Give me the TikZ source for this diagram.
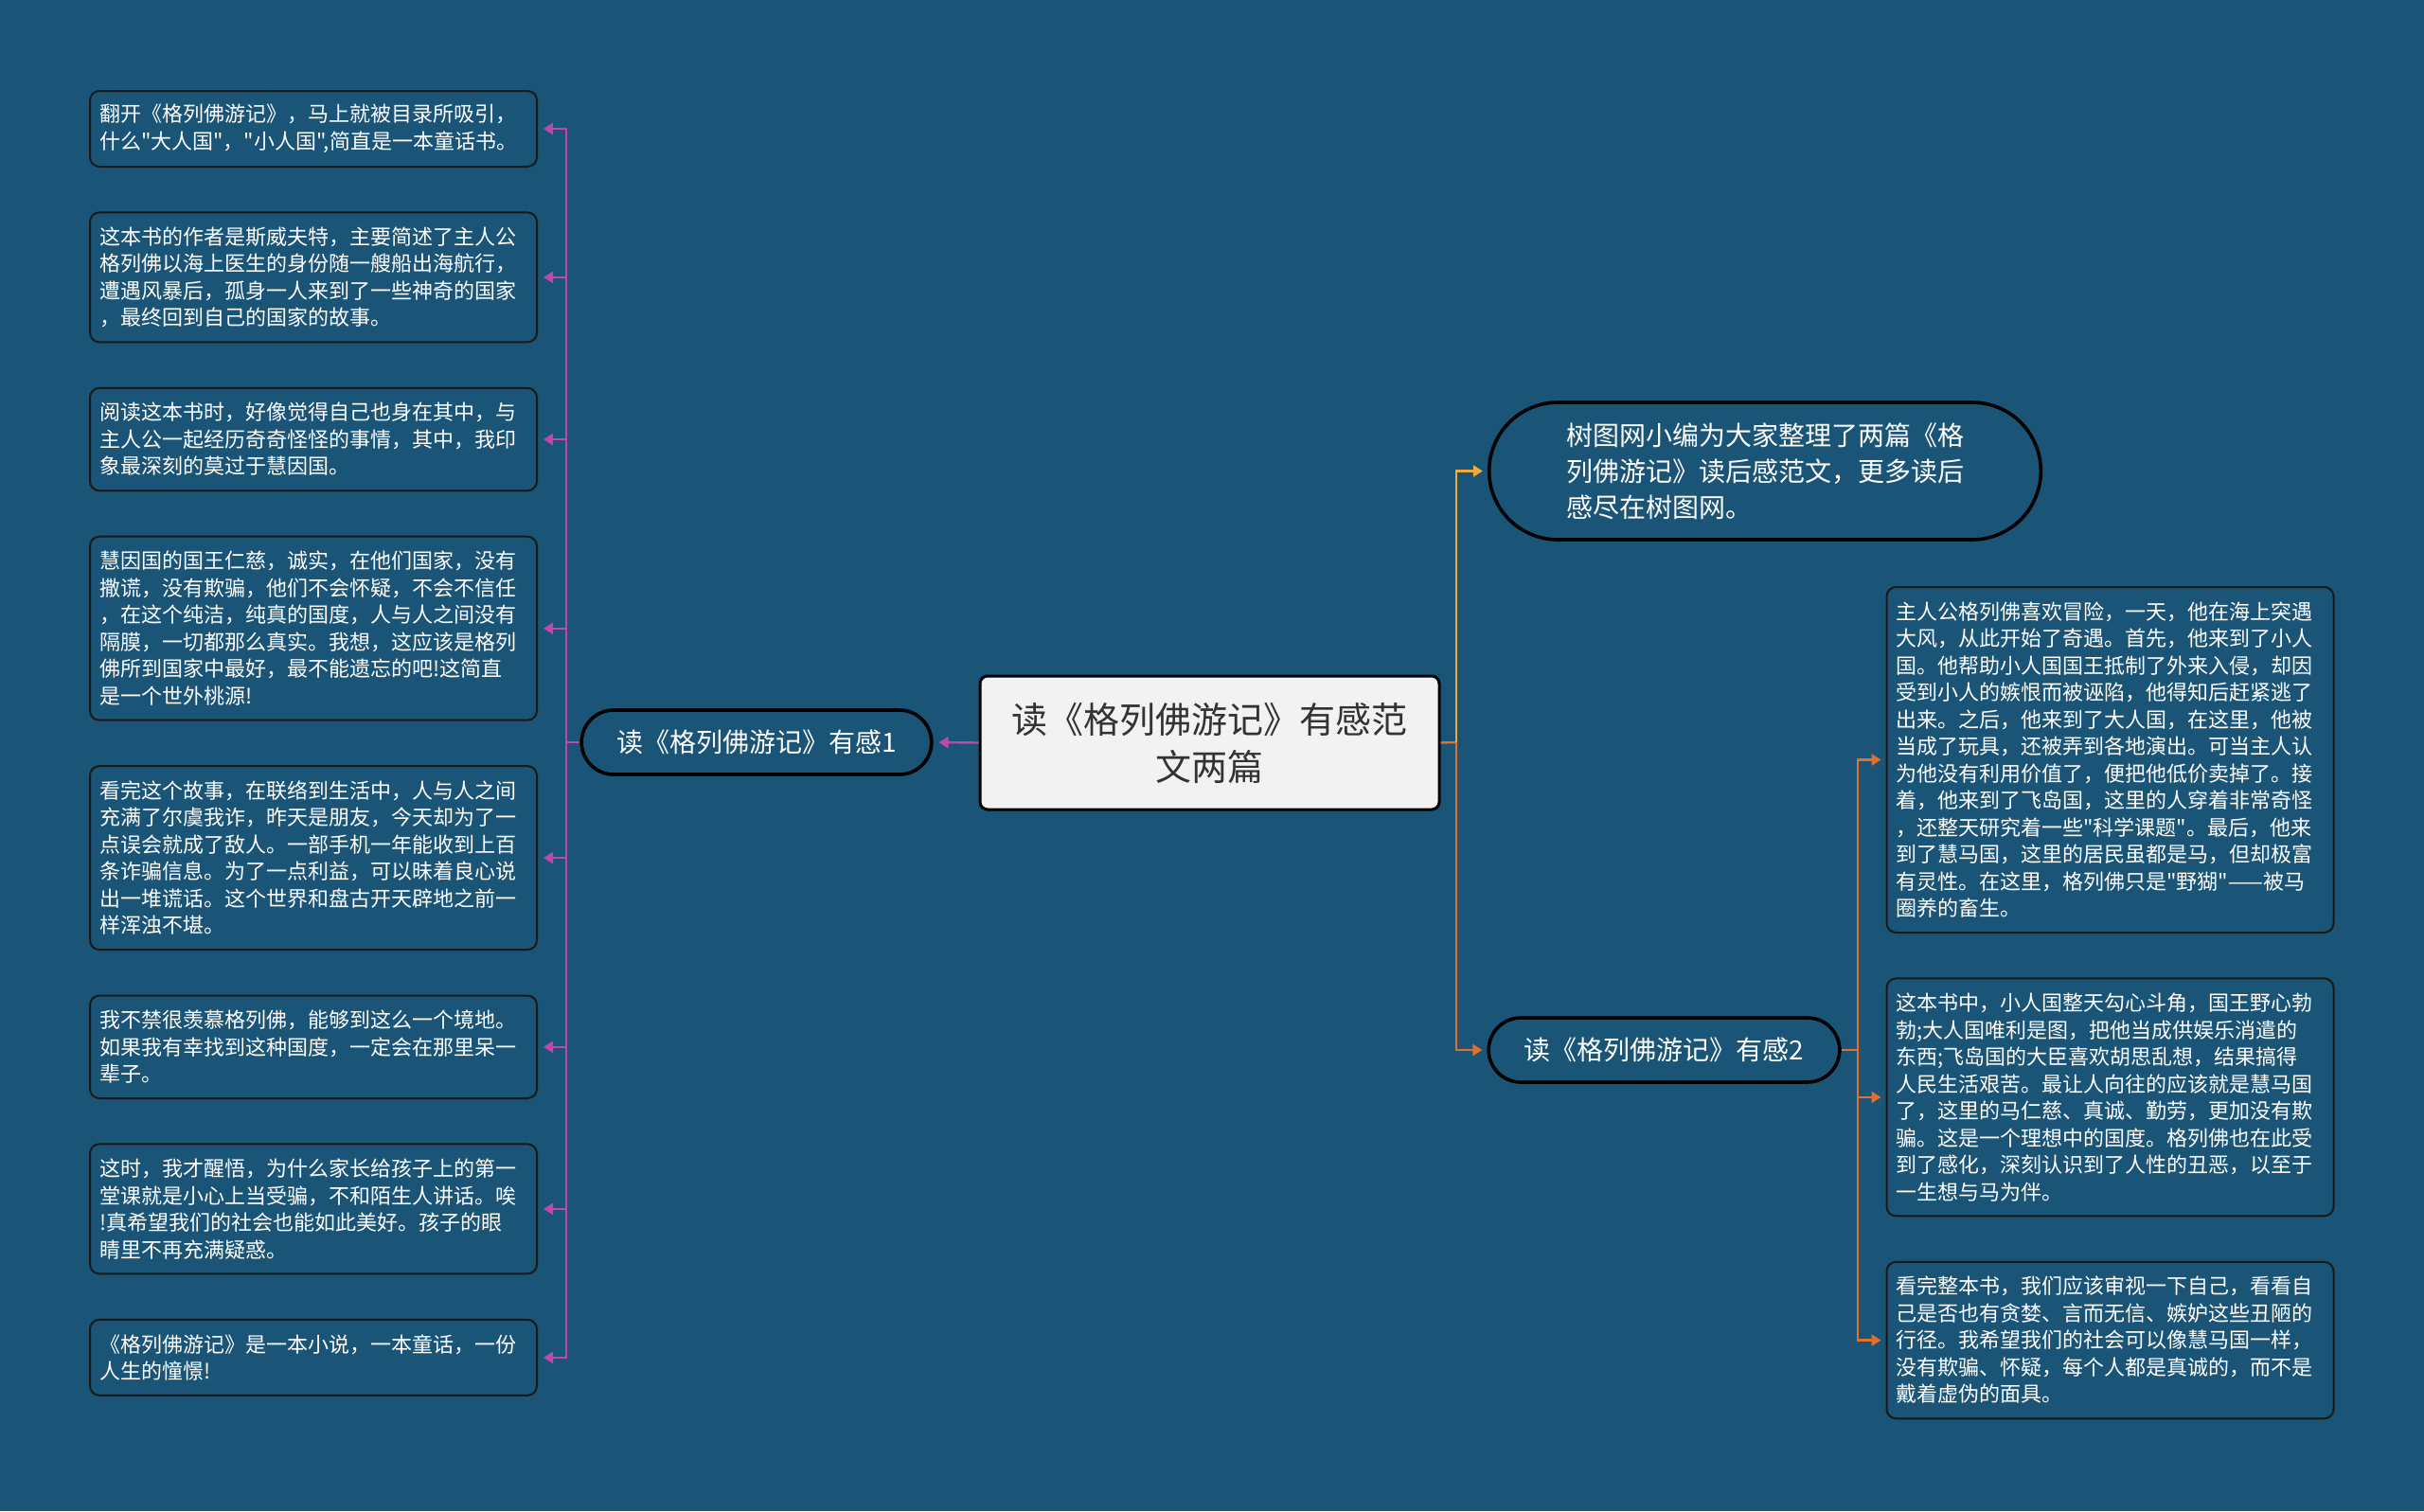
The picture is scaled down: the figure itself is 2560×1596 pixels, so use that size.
\documentclass[tikz,border=0pt]{standalone}
\usepackage{fontspec}
\setmainfont{Noto Sans CJK SC}[Ligatures=TeXOff]
\usepackage{tikz}
\usetikzlibrary{positioning, arrows.meta, shapes.misc}

\definecolor{bgblue}{RGB}{26,84,118}
\definecolor{rootgray}{RGB}{242,242,242}
\definecolor{linkpink}{RGB}{192,72,168}
\definecolor{linkgold}{RGB}{240,170,60}
\definecolor{linkorange}{RGB}{230,110,45}

\begin{document}
\begin{tikzpicture}[
    x=0.5pt, y=-0.5pt,
    node distance=23.2pt,
    root/.style={rectangle, draw=black, fill=rootgray, line width=1.5pt, rounded corners=4pt, align=center, minimum width=242.5pt, minimum height=70.5pt, text=black!80, font=\fontsize{19pt}{25pt}\selectfont},
    branch/.style={rounded rectangle, draw=black, fill=bgblue, line width=1.8pt, align=center, minimum height=34pt, text=white, font=\fontsize{14pt}{19pt}\selectfont},
    leaf/.style={rectangle, draw=black!90, fill=bgblue, line width=1pt, rounded corners=5pt, align=left, text width=226pt, inner xsep=5pt, minimum width=236pt, minimum height={#1*14.25pt+11.5pt}, text=white, font=\fontsize{11pt}{14.25pt}\selectfont},
    pinkline/.style={line width=1.2pt, draw=linkpink},
    pinkarrow/.style={pinkline, -{Triangle[length=5pt, width=6pt]}, shorten >=3pt},
    goldarrow/.style={line width=1.2pt, draw=linkgold, -{Triangle[length=5pt, width=6pt]}, shorten >=2.5pt},
    orangeline/.style={line width=1.2pt, draw=linkorange},
    orangearrow/.style={orangeline, -{Triangle[length=5pt, width=6pt]}, shorten >=2.5pt}
]
    \fill [bgblue] (0,0) rectangle (2560,1596);
    \useasboundingbox (0,0) rectangle (2560,1596);

    \node [root] (root) at (1277.5,784.5) {读《格列佛游记》有感范\\文两篇};
    \node [branch, minimum width=191.5pt] (part1) at (799,784) {读《格列佛游记》有感1};
    \node [branch, minimum width=192pt] (part2) at (1757.5,1109) {读《格列佛游记》有感2};
    \node [branch, minimum width=298pt, minimum height=72.5pt, align=left, text width=210pt] (intro) at (1864,497.5) {树图网小编为大家整理了两篇《格\\列佛游记》读后感范文，更多读后\\感尽在树图网。};

    % left side
    \node [leaf=2, anchor=north] (l1) at (331,95) {翻开《格列佛游记》，马上就被目录所吸引，\\什么"大人国"，"小人国",简直是一本童话书。};
    \node [leaf=4, below=of l1] (l2) {这本书的作者是斯威夫特，主要简述了主人公\\格列佛以海上医生的身份随一艘船出海航行，\\遭遇风暴后，孤身一人来到了一些神奇的国家\\，最终回到自己的国家的故事。};
    \node [leaf=3, below=of l2] (l3) {阅读这本书时，好像觉得自己也身在其中，与\\主人公一起经历奇奇怪怪的事情，其中，我印\\象最深刻的莫过于慧因国。};
    \node [leaf=6, below=of l3] (l4) {慧因国的国王仁慈，诚实，在他们国家，没有\\撒谎，没有欺骗，他们不会怀疑，不会不信任\\，在这个纯洁，纯真的国度，人与人之间没有\\隔膜，一切都那么真实。我想，这应该是格列\\佛所到国家中最好，最不能遗忘的吧!这简直\\是一个世外桃源!};
    \node [leaf=6, below=of l4] (l5) {看完这个故事，在联络到生活中，人与人之间\\充满了尔虞我诈，昨天是朋友，今天却为了一\\点误会就成了敌人。一部手机一年能收到上百\\条诈骗信息。为了一点利益，可以昧着良心说\\出一堆谎话。这个世界和盘古开天辟地之前一\\样浑浊不堪。};
    \node [leaf=3, below=of l5] (l6) {我不禁很羡慕格列佛，能够到这么一个境地。\\如果我有幸找到这种国度，一定会在那里呆一\\辈子。};
    \node [leaf=4, below=of l6] (l7) {这时，我才醒悟，为什么家长给孩子上的第一\\堂课就是小心上当受骗，不和陌生人讲话。唉\\!真希望我们的社会也能如此美好。孩子的眼\\睛里不再充满疑惑。};
    \node [leaf=2, below=of l7] (l8) {《格列佛游记》是一本小说，一本童话，一份\\人生的憧憬!};

    % right side
    \node [leaf=12, anchor=north] (r1) at (2228.5,619) {主人公格列佛喜欢冒险，一天，他在海上突遇\\大风，从此开始了奇遇。首先，他来到了小人\\国。他帮助小人国国王抵制了外来入侵，却因\\受到小人的嫉恨而被诬陷，他得知后赶紧逃了\\出来。之后，他来到了大人国，在这里，他被\\当成了玩具，还被弄到各地演出。可当主人认\\为他没有利用价值了，便把他低价卖掉了。接\\着，他来到了飞岛国，这里的人穿着非常奇怪\\，还整天研究着一些"科学课题"。最后，他来\\到了慧马国，这里的居民虽都是马，但却极富\\有灵性。在这里，格列佛只是"野猢"——被马\\圈养的畜生。};
    \node [leaf=8, below=of r1] (r2) {这本书中，小人国整天勾心斗角，国王野心勃\\勃;大人国唯利是图，把他当成供娱乐消遣的\\东西;飞岛国的大臣喜欢胡思乱想，结果搞得\\人民生活艰苦。最让人向往的应该就是慧马国\\了，这里的马仁慈、真诚、勤劳，更加没有欺\\骗。这是一个理想中的国度。格列佛也在此受\\到了感化，深刻认识到了人性的丑恶，以至于\\一生想与马为伴。};
    \node [leaf=5, below=of r2] (r3) {看完整本书，我们应该审视一下自己，看看自\\己是否也有贪婪、言而无信、嫉妒这些丑陋的\\行径。我希望我们的社会可以像慧马国一样，\\没有欺骗、怀疑，每个人都是真诚的，而不是\\戴着虚伪的面具。};

    \coordinate (ljoin) at (598,784);
    \coordinate (rjoin) at (1538,784);
    \coordinate (pjoin) at (1962,1109);

    \draw [pinkarrow] (root.west) -- (part1.east);
    \draw [pinkline] (part1.west) -- (ljoin);
    \foreach \n in {1,...,8}
        \draw [pinkarrow] (ljoin) |- (l\n.east);

    \draw [orangeline] (root.east) -- (rjoin);
    \draw [goldarrow] (rjoin) |- (intro.west);
    \draw [orangearrow] (rjoin) |- (part2.west);
    \draw [orangeline] (part2.east) -- (pjoin);
    \foreach \n in {1,2,3}
        \draw [orangearrow] (pjoin) |- (r\n.west);
\end{tikzpicture}
\end{document}
